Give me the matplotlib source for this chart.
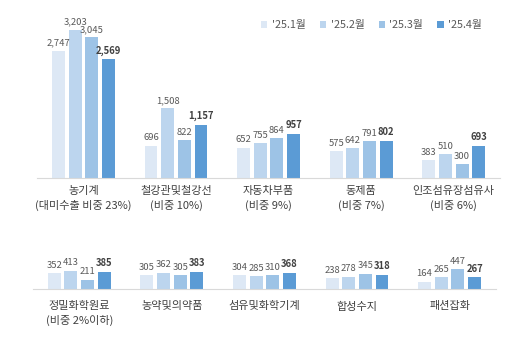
import numpy as np
import matplotlib
matplotlib.use("Agg")
import matplotlib.pyplot as plt
from matplotlib.patches import Patch

plt.rcParams['font.family'] = ['Noto Sans CJK KR', 'DejaVu Sans']

# data
months = ["'25.1월", "'25.2월", "'25.3월", "'25.4월"]
colors = ["#dde8f5", "#bcd5ee", "#9dc3e6", "#5b9bd5"]

top_cats = ["농기계\n(대미수출 비중 23%)", "철강관및철강선\n(비중 10%)", "자동차부품\n(비중 9%)",
            "동제품\n(비중 7%)", "인조섬유장섬유사\n(비중 6%)"]
top_vals = [
    [2747, 696, 652, 575, 383],
    [3203, 1508, 755, 642, 510],
    [3045, 822, 864, 791, 300],
    [2569, 1157, 957, 802, 693],
]

bot_cats = ["정밀화학원료\n(비중 2%이하)", "농약및의약품", "섬유및화학기계", "합성수지", "패션잡화"]
bot_vals = [
    [352, 305, 304, 238, 164],
    [413, 362, 285, 278, 265],
    [211, 305, 310, 345, 447],
    [385, 383, 368, 318, 267],
]

fig = plt.figure(figsize=(5.16, 3.39), dpi=100)
ax1 = fig.add_axes([0.072, 0.475, 0.897, 0.477])
ax2 = fig.add_axes([0.064, 0.1475, 0.897, 0.132])


def draw(ax, cats, vals, ymax, pad):
    x = np.arange(len(cats))
    w = 0.14
    pitch = 0.18
    for i, (series, c) in enumerate(zip(vals, colors)):
        pos = x + (i - 1.5) * pitch
        bars = ax.bar(pos, series, width=w, color=c, zorder=2)
        for b, v in zip(bars, series):
            last = i == 3
            ax.annotate(f"{v:,}", (b.get_x() + b.get_width() / 2, v),
                        xytext=(0, 2.5), textcoords="offset points",
                        ha="center", va="bottom", fontsize=6.8,
                        color="#404040" if last else "#595959",
                        fontweight="bold" if last else "normal")
    ax.set_xlim(-0.5, len(cats) - 0.5)
    ax.set_ylim(0, ymax)
    ax.set_xticks(x)
    ax.set_xticklabels(cats, fontsize=8, color="#404040", linespacing=1.35)
    ax.tick_params(axis="x", length=0, pad=pad)
    ax.set_yticks([])
    for s in ["top", "right", "left"]:
        ax.spines[s].set_visible(False)
    ax.spines["bottom"].set_color("#d9d9d9")


draw(ax1, top_cats, top_vals, 3500, 6)
draw(ax2, bot_cats, bot_vals, 1000, 9)

handles = [Patch(facecolor=c, edgecolor="none") for c in colors]
fig.legend(handles, months, loc="center", bbox_to_anchor=(0.72, 0.925), ncol=4,
           frameon=False, fontsize=7.8, handlelength=0.6, handleheight=0.6,
           handletextpad=0.4, columnspacing=1.3, labelcolor="#595959")

fig.savefig("out.png", dpi=100)
